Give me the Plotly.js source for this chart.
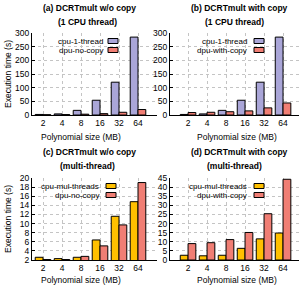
<!DOCTYPE html>
<html><head><meta charset="utf-8">
<script src="https://cdn.plot.ly/plotly-3.0.1.min.js"></script>
<style>html,body{margin:0;padding:0;background:#fff}#chart{width:300px;height:285px}</style>
</head><body><div id="chart"></div>
<script>
// ---- data ----
const sizes = ['2', '4', '8', '16', '32', '64'];
const cpu1Thread = [2, 4, 17, 54, 120, 285];
const dpuNoCopy1 = [1, 1.5, 3, 5, 10, 20];
const dpuWithCopy1 = [9, 10, 12, 15, 26, 44];
const cpuMulThreads = [2.6, 2.3, 2.6, 6.4, 11.6, 14.8];
const dpuNoCopyMul = [2.1, 2.1, 2.8, 5.1, 9.7, 19.0];
const dpuWithCopyMul = [9.0, 9.5, 11.2, 15.1, 25.4, 44.3];
const seriesNames = ['cpu-1-thread', 'dpu-no-copy', 'dpu-with-copy', 'cpu-mul-threads'];
const panelTitles = [
  ['(a) DCRTmult w/o copy', '(1 CPU thread)'],
  ['(b) DCRTmult with copy', '(1 CPU thread)'],
  ['(c) DCRTmult w/o copy', '(multi-thread)'],
  ['(d) DCRTmult with copy', '(multi-thread)']
];
const xTitle = 'Polynomial size (MB)';
const yTitle = 'Execution time (s)';

// ---- style ----
const W = 300, H = 285;
const xp = px => px / W;
const yp = py => 1 - py / H;
const cLav = '#aaa6d8', cRed = '#f07e74', cGold = '#ffc000';
const FONT = 'Liberation Sans, Arial, sans-serif';

function bar(name, y, color, ax) {
  return {type: 'bar', name: name, x: sizes, y: y, xaxis: 'x' + ax, yaxis: 'y' + ax,
    marker: {color: color, line: {color: '#000', width: 1}}, showlegend: false,
    hoverinfo: 'skip'};
}
const data = [
  bar(seriesNames[0], cpu1Thread, cLav, ''),
  bar(seriesNames[1], dpuNoCopy1, cRed, ''),
  bar(seriesNames[0], cpu1Thread, cLav, '2'),
  bar(seriesNames[2], dpuWithCopy1, cRed, '2'),
  bar(seriesNames[3], cpuMulThreads, cGold, '3'),
  bar(seriesNames[1], dpuNoCopyMul, cRed, '3'),
  bar(seriesNames[3], cpuMulThreads, cGold, '4'),
  bar(seriesNames[2], dpuWithCopyMul, cRed, '4')
];

const common = {showline: true, linecolor: '#000', linewidth: 1, showgrid: true,
  gridcolor: '#c4c4c4', griddash: 'dot', gridwidth: 1, zeroline: false,
  tickfont: {family: FONT, size: 8.5, color: '#000'}, fixedrange: true};
function xa(dom, range, anchor) {
  return Object.assign({}, common, {type: 'category', domain: dom, range: range,
    anchor: anchor, ticks: ''});
}
function ya(dom, range, dtick, anchor) {
  return Object.assign({}, common, {domain: dom, range: range, dtick: dtick,
    anchor: anchor, ticks: 'inside', ticklen: 3, tickcolor: '#000'});
}
const topDom = [yp(115), yp(33)], botDom = [yp(260), yp(178)];
const leftDom = [xp(32), xp(157)], rightDom = [xp(170), xp(299)];
const leftRange = [-0.58, 6.0], rightRange = [-0.95, 5.84];

const annotations = [];
const shapes = [];
function txt(text, x, y, opts, size) {
  annotations.push(Object.assign({text: text, xref: 'paper', yref: 'paper',
    x: xp(x), y: yp(y), showarrow: false, xanchor: 'center', yanchor: 'middle',
    font: {family: FONT, size: size || 8.5, color: '#000'}}, opts || {}));
}
// titles
const titlePos = [[89, 8, 87, 22], [239, 8, 234, 22], [89, 152, 87, 166], [239, 152, 234, 166]];
panelTitles.forEach((t, i) => {
  const p = titlePos[i];
  txt('<b>' + t[0] + '</b>', p[0], p[1], null, 8.5);
  txt('<b>' + t[1] + '</b>', p[2], p[3], null, 8.5);
});
// axis titles
txt(xTitle, 81, 137); txt(xTitle, 237, 137);
txt(xTitle, 81, 280); txt(xTitle, 237, 280);
txt(yTitle, 8, 74, {textangle: -90});
txt(yTitle, 8, 219, {textangle: -90});
// legends
function legend(names, colors, textRight, swX, y1, y2) {
  [y1, y2].forEach((y, k) => {
    txt(names[k], textRight, y, {xanchor: 'right'}, 8);
    shapes.push({type: 'rect', xref: 'paper', yref: 'paper',
      x0: xp(swX), x1: xp(swX + 10), y0: yp(y + 2.5), y1: yp(y - 2.5),
      fillcolor: colors[k], line: {color: '#000', width: 1}});
  });
}
legend([seriesNames[0], seriesNames[1]], [cLav, cRed], 105, 108, 41, 50);
legend([seriesNames[0], seriesNames[2]], [cLav, cRed], 249, 254, 41, 50);
legend([seriesNames[3], seriesNames[1]], [cGold, cRed], 101, 106, 186, 195);
legend([seriesNames[3], seriesNames[2]], [cGold, cRed], 249, 254, 186, 195);

const layout = {
  width: W, height: H, margin: {l: 0, r: 0, t: 0, b: 0},
  paper_bgcolor: '#fff', plot_bgcolor: '#fff',
  barmode: 'group', bargap: 0.18, bargroupgap: 0,
  showlegend: false,
  xaxis: xa(leftDom, leftRange, 'y'),
  yaxis: ya(topDom, [0, 300], 50, 'x'),
  xaxis2: xa(rightDom, rightRange, 'y2'),
  yaxis2: ya(topDom, [0, 300], 50, 'x2'),
  xaxis3: xa(leftDom, leftRange, 'y3'),
  yaxis3: ya(botDom, [2, 20], 2, 'x3'),
  xaxis4: xa(rightDom, rightRange, 'y4'),
  yaxis4: ya(botDom, [0, 45], 5, 'x4'),
  annotations: annotations, shapes: shapes
};
Plotly.newPlot('chart', data, layout, {staticPlot: true, displayModeBar: false});
</script></body></html>
